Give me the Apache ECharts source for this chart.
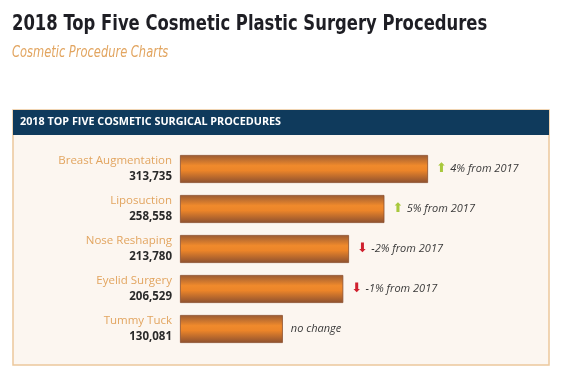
<!DOCTYPE html>
<html><head><meta charset="utf-8">
<script src="https://cdn.jsdelivr.net/npm/echarts@6/dist/echarts.min.js"></script>
<style>html,body{margin:0;padding:0;background:#fff}#c{width:570px;height:374px}</style>
</head><body><div id="c"></div>
<script>
const categories = ['Breast Augmentation','Liposuction','Nose Reshaping','Eyelid Surgery','Tummy Tuck'];
const values = [313735, 258558, 213780, 206529, 130081];
const changeText = ['4% from 2017','5% from 2017','-2% from 2017','-1% from 2017','no change'];
const changeDir = ['up','up','down','down','none'];

const chart = echarts.init(document.getElementById('c'));
const barGrad = new echarts.graphic.LinearGradient(0,0,0,1,[
  {offset:0,color:'#9a5a32'},
  {offset:0.38,color:'#f08a2c'},
  {offset:0.55,color:'#ec8529'},
  {offset:1,color:'#8c5030'}
]);
chart.setOption({
  backgroundColor:'#ffffff',
  animation:false,
  graphic:[
    {type:'text',x:12,y:14,scaleX:0.87,style:{text:'2018 Top Five Cosmetic Plastic Surgery Procedures',fill:'#1e1e24',font:'bold 21px "DejaVu Sans Condensed", "DejaVu Sans", sans-serif'}},
    {type:'text',x:12,y:46,scaleX:0.85,style:{text:'Cosmetic Procedure Charts',fill:'#e2a560',font:'italic 15px "DejaVu Sans Condensed", "DejaVu Sans", sans-serif'}},
    {type:'rect',shape:{x:13,y:110,width:536,height:255},style:{fill:'#fcf6f0',stroke:'#ecc89c',lineWidth:1.5},z:-10},
    {type:'rect',shape:{x:13,y:110,width:536,height:25},style:{fill:'#0f3a5c'},z:-9},
    {type:'text',x:20,y:116,style:{text:'2018 TOP FIVE COSMETIC SURGICAL PROCEDURES',fill:'#ffffff',font:'bold 10.8px "Open Sans", sans-serif'},z:-8}
  ],
  grid:{left:180,top:149,width:370,height:200},
  xAxis:{type:'value',min:0,max:468000,show:false},
  yAxis:{type:'category',data:categories,inverse:true,
    axisLine:{show:false},axisTick:{show:false},splitLine:{show:false},
    axisLabel:{margin:8,align:'right',
      formatter:function(v,i){return '{n|'+v+'}\n{v|'+values[i].toLocaleString('en-US')+'}';},
      rich:{n:{fontFamily:'"Open Sans",sans-serif',fontSize:11.5,color:'#e2a560',align:'right',lineHeight:16},
            v:{fontFamily:'"Open Sans",sans-serif',fontSize:11.5,fontWeight:'bold',color:'#2a2a2a',align:'right',lineHeight:16}}}},
  series:[{type:'bar',data:values,barWidth:28,
    itemStyle:{color:barGrad,borderColor:'#8a4e2c',borderWidth:0.8},
    label:{show:true,position:'right',distance:8,
      formatter:function(p){const d=changeDir[p.dataIndex];
        const a=d==='up'?'{up|⬆} ':(d==='down'?'{dn|⬇} ':'');
        return a+'{t|'+changeText[p.dataIndex]+'}';},
      rich:{up:{color:'#a8c83c',fontSize:13,fontFamily:'"DejaVu Sans"'},
            dn:{color:'#d0202e',fontSize:13,fontFamily:'"DejaVu Sans"'},
            t:{color:'#3a3a3a',fontSize:11,fontStyle:'italic',fontFamily:'"Open Sans",sans-serif'}}}
  }]
});
</script></body></html>
